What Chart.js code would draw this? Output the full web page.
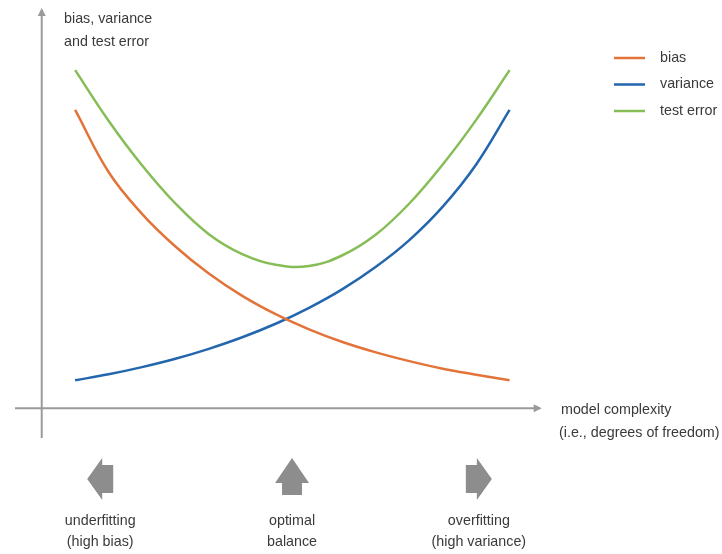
<!DOCTYPE html>
<html lang="en">
<head>
    <meta charset="UTF-8">
    <title>Bias-variance tradeoff</title>
    <script src="https://cdn.jsdelivr.net/npm/chart.js"></script>
    <style>
        html, body { margin: 0; padding: 0; background: #fff; }
        #wrap { width: 722px; height: 554px; }
    </style>
</head>
<body>

<div id="wrap"><canvas id="tradeoffChart" width="722" height="554"></canvas></div>

<script>
    // model complexity steps (x) and the three curves
    var complexity = [1, 2, 3, 4, 5, 6, 7, 8, 9, 10, 11, 12, 13, 14];
    var bias      = [7.49, 5.93, 4.88, 4.06, 3.38, 2.82, 2.36, 1.98, 1.66, 1.40, 1.18, 0.99, 0.84, 0.70];
    var variance  = [0.70, 0.85, 1.03, 1.24, 1.49, 1.78, 2.12, 2.52, 2.99, 3.55, 4.22, 5.06, 6.12, 7.49];
    var testError = [8.49, 7.22, 6.10, 5.14, 4.37, 3.87, 3.60, 3.57, 3.84, 4.36, 5.14, 6.12, 7.24, 8.49];

    var seriesNames = ['bias', 'variance', 'test error'];
    var yTitle = ['bias, variance', 'and test error'];
    var xTitle = ['model complexity', '(i.e., degrees of freedom)'];
    var zones = [
        { dir: 'left',  at: 1.75,  lines: ['underfitting', '(high bias)'] },
        { dir: 'up',    at: 7.49,  lines: ['optimal', 'balance'] },
        { dir: 'right', at: 13.08, lines: ['overfitting', '(high variance)'] }
    ];

    var FONT = '14.3px "Liberation Sans", Arial, sans-serif';
    var TEXT = '#3a3a3a';
    var AXIS = '#9a9a9a';
    var ARROW = '#8d8d8d';

    function pts(ys) {
        return complexity.map(function (x, i) { return { x: x, y: ys[i] }; });
    }

    // axes with arrow tips, drawn under the curves
    var axesPlugin = {
        id: 'axes',
        beforeDatasetsDraw: function (chart) {
            var ctx = chart.ctx, xs = chart.scales.x, ys = chart.scales.y;
            var x0 = xs.getPixelForValue(0), y0 = ys.getPixelForValue(0);
            var left = xs.getPixelForValue(xs.min), right = xs.getPixelForValue(14.9);
            var top = ys.getPixelForValue(ys.max), bottom = ys.getPixelForValue(ys.min);
            ctx.save();
            ctx.strokeStyle = AXIS;
            ctx.lineWidth = 2;
            ctx.beginPath();
            ctx.moveTo(left, y0); ctx.lineTo(right, y0);
            ctx.moveTo(x0, bottom); ctx.lineTo(x0, top);
            ctx.stroke();
            ctx.fillStyle = AXIS;
            ctx.beginPath();
            ctx.moveTo(right + 2, y0); ctx.lineTo(right - 6, y0 - 4); ctx.lineTo(right - 6, y0 + 4);
            ctx.closePath(); ctx.fill();
            ctx.beginPath();
            ctx.moveTo(x0, top - 2); ctx.lineTo(x0 - 4, top + 6); ctx.lineTo(x0 + 4, top + 6);
            ctx.closePath(); ctx.fill();
            ctx.restore();
        }
    };

    // titles, legend and the three block arrows under the axis
    var notesPlugin = {
        id: 'notes',
        afterDraw: function (chart) {
            var ctx = chart.ctx, xs = chart.scales.x, ys = chart.scales.y;
            ctx.save();
            ctx.font = FONT;
            ctx.fillStyle = TEXT;
            ctx.textBaseline = 'middle';
            ctx.textAlign = 'left';
            ctx.fillText(yTitle[0], 64, 19);
            ctx.fillText(yTitle[1], 64, 42);
            var y0 = ys.getPixelForValue(0);
            ctx.fillText(xTitle[0], 561, y0 + 2);
            ctx.fillText(xTitle[1], 559, y0 + 25);

            // legend
            chart.data.datasets.forEach(function (ds, i) {
                var ly = 58 + i * 26.5;
                ctx.strokeStyle = ds.borderColor;
                ctx.lineWidth = 2.5;
                ctx.beginPath();
                ctx.moveTo(614, ly); ctx.lineTo(645, ly);
                ctx.stroke();
                ctx.fillStyle = TEXT;
                ctx.fillText(ds.label, 660, ly);
            });

            // block arrows
            zones.forEach(function (z) {
                var cx = xs.getPixelForValue(z.at);
                ctx.fillStyle = ARROW;
                ctx.beginPath();
                if (z.dir === 'left') {
                    ctx.moveTo(cx - 13, 479);
                    ctx.lineTo(cx + 2, 458); ctx.lineTo(cx + 2, 465); ctx.lineTo(cx + 13, 465);
                    ctx.lineTo(cx + 13, 493); ctx.lineTo(cx + 2, 493); ctx.lineTo(cx + 2, 500);
                } else if (z.dir === 'right') {
                    ctx.moveTo(cx + 13, 479);
                    ctx.lineTo(cx - 2, 458); ctx.lineTo(cx - 2, 465); ctx.lineTo(cx - 13, 465);
                    ctx.lineTo(cx - 13, 493); ctx.lineTo(cx - 2, 493); ctx.lineTo(cx - 2, 500);
                } else {
                    ctx.moveTo(cx, 458);
                    ctx.lineTo(cx + 17, 483); ctx.lineTo(cx + 10, 483); ctx.lineTo(cx + 10, 495);
                    ctx.lineTo(cx - 10, 495); ctx.lineTo(cx - 10, 483); ctx.lineTo(cx - 17, 483);
                }
                ctx.closePath();
                ctx.fill();
                ctx.fillStyle = TEXT;
                ctx.textAlign = 'center';
                ctx.fillText(z.lines[0], cx, 521);
                ctx.fillText(z.lines[1], cx, 542);
            });
            ctx.restore();
        }
    };

    var ctx = document.getElementById('tradeoffChart').getContext('2d');
    var chart = new Chart(ctx, {
        type: 'line',
        data: {
            datasets: [
                { label: seriesNames[0], data: pts(bias),      borderColor: '#e2743a' },
                { label: seriesNames[1], data: pts(variance),  borderColor: '#2366ad' },
                { label: seriesNames[2], data: pts(testError), borderColor: '#86bd57' }
            ]
        },
        options: {
            responsive: false,
            animation: false,
            layout: { padding: { left: 15, top: 10, right: 179, bottom: 116 } },
            elements: {
                line: { borderWidth: 2.5, fill: false, tension: 0.4 },
                point: { radius: 0 }
            },
            plugins: { legend: { display: false }, tooltip: { enabled: false } },
            scales: {
                x: { type: 'linear', min: -0.8, max: 15, display: false },
                y: { min: -0.75, max: 10, display: false }
            }
        },
        plugins: [axesPlugin, notesPlugin]
    });
</script>

</body>
</html>
